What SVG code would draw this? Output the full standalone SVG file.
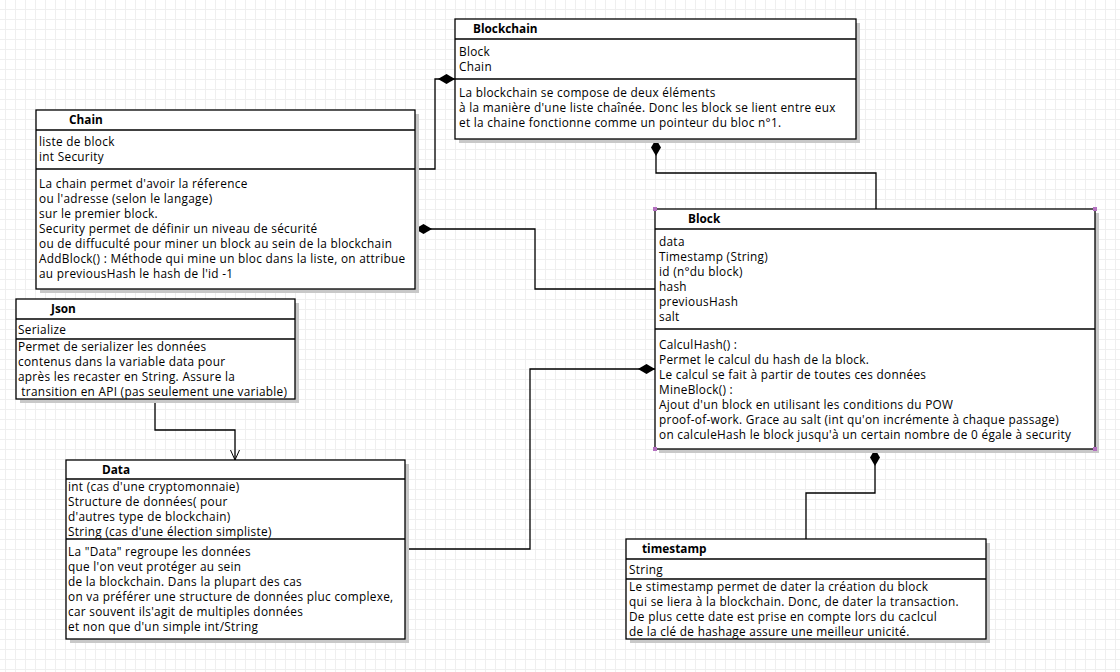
<svg xmlns="http://www.w3.org/2000/svg" width="1120" height="672" viewBox="0 0 1120 672">
<defs>
<pattern id="grid" width="10" height="10" patternUnits="userSpaceOnUse" x="5" y="9">
<rect width="10" height="10" fill="#ffffff"/>
<path d="M0 0.5H10M0.5 0V10" stroke="#efefef" stroke-width="1" fill="none"/>
</pattern>
<marker id="diamond" markerWidth="18" markerHeight="11" refX="17" refY="5.5" orient="auto-start-reverse" markerUnits="userSpaceOnUse">
<path d="M0 5.5L8.5 0.5L17 5.5L8.5 10.5Z" fill="#000"/>
</marker>
<marker id="open" markerWidth="12" markerHeight="12" refX="10" refY="5" orient="auto" markerUnits="userSpaceOnUse">
<path d="M0 0.5L10 5L0 9.5" fill="none" stroke="#000" stroke-width="1"/>
</marker>
</defs>
<style>
.box{fill:#fff;stroke:#000;stroke-width:1.3}
.sh{fill:#c8c8c8}
.sep{stroke:#000;stroke-width:1.3}
.t{font-family:"Open Sans","DejaVu Sans",sans-serif;font-size:11.8px;letter-spacing:0.3px;fill:#000}
.h{font-family:"Open Sans","DejaVu Sans",sans-serif;font-size:11.8px;font-weight:bold;fill:#000}
.c{fill:none;stroke:#000;stroke-width:1.3}
.hd{fill:#b36fbf}
</style>
<rect width="1120" height="672" fill="url(#grid)"/>

<g id="connectors">
<path class="c" d="M455 79H435V169H415" marker-start="url(#diamond)"/>
<path class="c" d="M415 229H535V289H655" marker-start="url(#diamond)"/>
<path class="c" d="M656 139V173H876V209" marker-start="url(#diamond)"/>
<path class="c" d="M655 369H530V549H405" marker-start="url(#diamond)"/>
<path class="c" d="M875 449V493H806V539" marker-start="url(#diamond)"/>
<path class="c" d="M155 399V430H235V460" marker-end="url(#open)"/>
</g>

<g id="blockchain">
<rect class="sh" x="459" y="23" width="401" height="120"/>
<rect class="box" x="455" y="19" width="401" height="120"/>
<line class="sep" x1="455" y1="39" x2="856" y2="39"/>
<line class="sep" x1="455" y1="79" x2="856" y2="79"/>
<text class="h" x="473" y="33">Blockchain</text>
<text class="t" x="459" y="56">Block</text>
<text class="t" x="459" y="71">Chain</text>
<text class="t" x="459" y="97">La blockchain se compose de deux éléments</text>
<text class="t" x="459" y="112">à la manière d'une liste chaînée. Donc les block se lient entre eux</text>
<text class="t" x="459" y="127">et la chaine fonctionne comme un pointeur du bloc n°1.</text>
</g>

<g id="chain">
<rect class="sh" x="40" y="114" width="379" height="179"/>
<rect class="box" x="36" y="110" width="379" height="179"/>
<line class="sep" x1="36" y1="130" x2="415" y2="130"/>
<line class="sep" x1="36" y1="169" x2="415" y2="169"/>
<text class="h" x="69" y="124">Chain</text>
<text class="t" x="39" y="146">liste de block</text>
<text class="t" x="39" y="161">int Security</text>
<text class="t" x="39" y="188">La chain permet d'avoir la réference</text>
<text class="t" x="39" y="203">ou l'adresse (selon le langage)</text>
<text class="t" x="39" y="218">sur le premier block.</text>
<text class="t" x="39" y="233">Security permet de définir un niveau de sécurité</text>
<text class="t" x="39" y="248">ou de diffuculté pour miner un block au sein de la blockchain</text>
<text class="t" x="39" y="263">AddBlock() : Méthode qui mine un bloc dans la liste, on attribue</text>
<text class="t" x="39" y="278">au previousHash le hash de l'id -1</text>
</g>

<g id="block">
<rect class="sh" x="659" y="213" width="440" height="240"/>
<rect class="box" x="655" y="209" width="440" height="240"/>
<line class="sep" x1="655" y1="229" x2="1095" y2="229"/>
<line class="sep" x1="655" y1="329" x2="1095" y2="329"/>
<text class="h" x="688" y="223">Block</text>
<text class="t" x="659" y="246">data</text>
<text class="t" x="659" y="261">Timestamp (String)</text>
<text class="t" x="659" y="276">id (n°du block)</text>
<text class="t" x="659" y="291">hash</text>
<text class="t" x="659" y="306">previousHash</text>
<text class="t" x="659" y="321">salt</text>
<text class="t" x="659" y="349">CalculHash() :</text>
<text class="t" x="659" y="364">Permet le calcul du hash de la block.</text>
<text class="t" x="659" y="379">Le calcul se fait à partir de toutes ces données</text>
<text class="t" x="659" y="394">MineBlock() :</text>
<text class="t" x="659" y="409">Ajout d'un block en utilisant les conditions du POW</text>
<text class="t" x="659" y="424">proof-of-work. Grace au salt (int qu'on incrémente à chaque passage)</text>
<text class="t" x="659" y="439">on calculeHash le block jusqu'à un certain nombre de 0 égale à security</text>
<rect class="hd" x="653" y="207" width="4" height="4"/>
<rect class="hd" x="1093" y="207" width="4" height="4"/>
<rect class="hd" x="653" y="447" width="4" height="4"/>
<rect class="hd" x="1093" y="447" width="4" height="4"/>
</g>

<g id="json">
<rect class="sh" x="20" y="303" width="279" height="100"/>
<rect class="box" x="16" y="299" width="279" height="100"/>
<line class="sep" x1="16" y1="319" x2="295" y2="319"/>
<line class="sep" x1="16" y1="339" x2="295" y2="339"/>
<text class="h" x="51" y="313">Json</text>
<text class="t" x="18" y="334">Serialize</text>
<text class="t" x="18" y="351">Permet de serializer les données</text>
<text class="t" x="18" y="366">contenus dans la variable data pour</text>
<text class="t" x="18" y="381">après les recaster en String. Assure la</text>
<text class="t" x="18" y="396">&#160;transition en API (pas seulement une variable)</text>
</g>

<g id="data">
<rect class="sh" x="70" y="464" width="339" height="179"/>
<rect class="box" x="66" y="460" width="339" height="179"/>
<line class="sep" x1="66" y1="479" x2="405" y2="479"/>
<line class="sep" x1="66" y1="539" x2="405" y2="539"/>
<text class="h" x="102" y="474">Data</text>
<text class="t" x="68" y="491">int (cas d'une cryptomonnaie)</text>
<text class="t" x="68" y="506">Structure de données( pour</text>
<text class="t" x="68" y="521">d'autres type de blockchain)</text>
<text class="t" x="68" y="536">String (cas d'une élection simpliste)</text>
<text class="t" x="68" y="556">La "Data" regroupe les données</text>
<text class="t" x="68" y="571">que l'on veut protéger au sein</text>
<text class="t" x="68" y="586">de la blockchain. Dans la plupart des cas</text>
<text class="t" x="68" y="601">on va préférer une structure de données pluc complexe,</text>
<text class="t" x="68" y="616">car souvent ils'agit de multiples données</text>
<text class="t" x="68" y="631">et non que d'un simple int/String</text>
</g>

<g id="timestamp">
<rect class="sh" x="630" y="543" width="360" height="100"/>
<rect class="box" x="626" y="539" width="360" height="100"/>
<line class="sep" x1="626" y1="559" x2="986" y2="559"/>
<line class="sep" x1="626" y1="579" x2="986" y2="579"/>
<text class="h" x="642" y="553">timestamp</text>
<text class="t" x="629" y="574">String</text>
<text class="t" x="629" y="591">Le stimestamp permet de dater la création du block</text>
<text class="t" x="629" y="606">qui se liera à la blockchain. Donc, de dater la transaction.</text>
<text class="t" x="629" y="621">De plus cette date est prise en compte lors du caclcul</text>
<text class="t" x="629" y="636">de la clé de hashage assure une meilleur unicité.</text>
</g>
</svg>
